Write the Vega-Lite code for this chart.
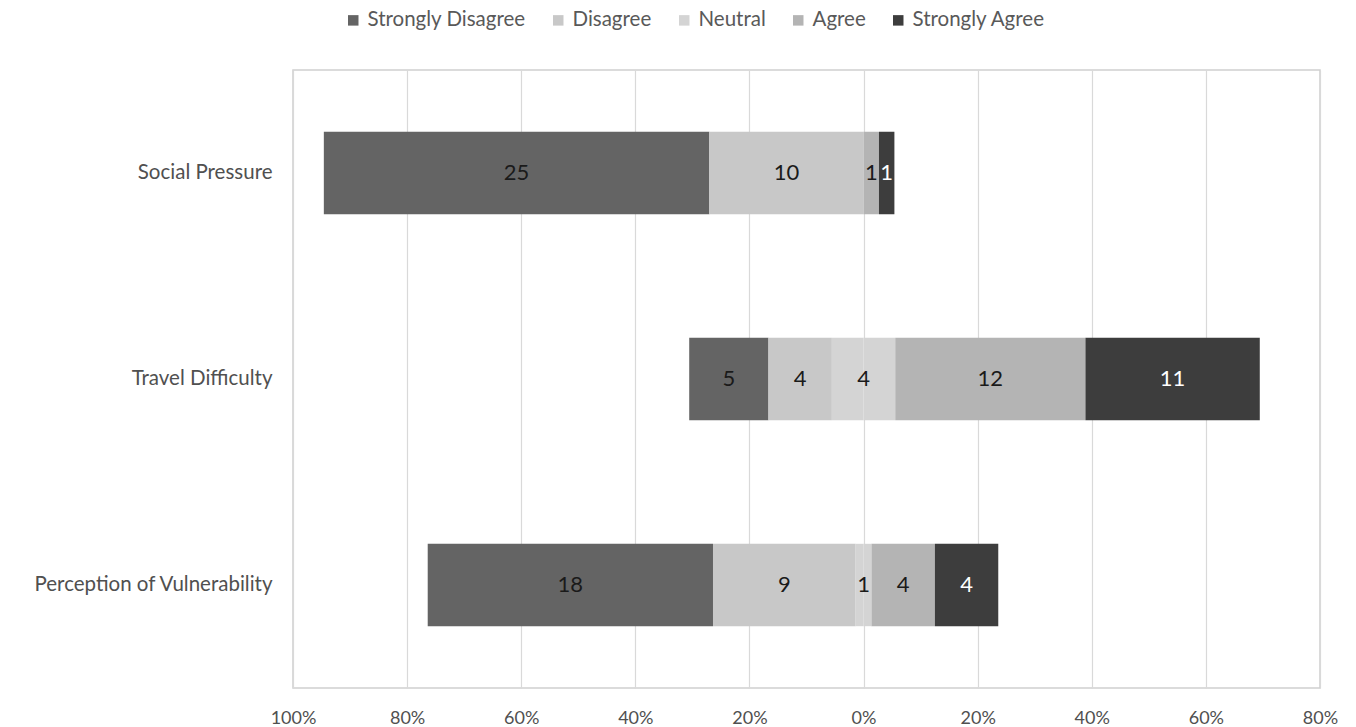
{
  "$schema": "https://vega.github.io/schema/vega-lite/v6.json",
  "width": 1027,
  "height": 618,
  "autosize": {"type": "none"},
  "padding": {"left": 293, "top": 70, "right": 36, "bottom": 39},
  "background": "white",
  "config": {
    "font": "Lato",
    "view": {"stroke": "#d0d0d0", "strokeWidth": 1.5}
  },
  "data": {
    "values": [
      {"question": "Social Pressure", "response": "Strongly Disagree", "level": 1, "count": 25, "pct": -67.568},
      {"question": "Social Pressure", "response": "Disagree", "level": 2, "count": 10, "pct": -27.027},
      {"question": "Social Pressure", "response": "Neutral", "level": 3, "count": 0, "pct": 0},
      {"question": "Social Pressure", "response": "Agree", "level": 4, "count": 1, "pct": 2.703},
      {"question": "Social Pressure", "response": "Strongly Agree", "level": 5, "count": 1, "pct": 2.703},
      {"question": "Travel Difficulty", "response": "Strongly Disagree", "level": 1, "count": 5, "pct": -13.889},
      {"question": "Travel Difficulty", "response": "Disagree", "level": 2, "count": 4, "pct": -11.111},
      {"question": "Travel Difficulty", "response": "Neutral", "level": 3, "count": 4, "pct": -5.556},
      {"question": "Travel Difficulty", "response": "Neutral", "level": 3, "count": 4, "pct": 5.556},
      {"question": "Travel Difficulty", "response": "Agree", "level": 4, "count": 12, "pct": 33.333},
      {"question": "Travel Difficulty", "response": "Strongly Agree", "level": 5, "count": 11, "pct": 30.556},
      {"question": "Perception of Vulnerability", "response": "Strongly Disagree", "level": 1, "count": 18, "pct": -50},
      {"question": "Perception of Vulnerability", "response": "Disagree", "level": 2, "count": 9, "pct": -25},
      {"question": "Perception of Vulnerability", "response": "Neutral", "level": 3, "count": 1, "pct": -1.389},
      {"question": "Perception of Vulnerability", "response": "Neutral", "level": 3, "count": 1, "pct": 1.389},
      {"question": "Perception of Vulnerability", "response": "Agree", "level": 4, "count": 4, "pct": 11.111},
      {"question": "Perception of Vulnerability", "response": "Strongly Agree", "level": 5, "count": 4, "pct": 11.111}
    ]
  },
  "encoding": {
    "y": {
      "field": "question",
      "type": "nominal",
      "sort": ["Social Pressure", "Travel Difficulty", "Perception of Vulnerability"],
      "scale": {"paddingInner": 0.6, "paddingOuter": 0.3},
      "axis": {
        "title": null,
        "ticks": false,
        "domain": false,
        "labelFontSize": 20.5,
        "labelColor": "#505050",
        "labelPadding": 21,
        "labelLimit": 400
      }
    }
  },
  "layer": [
    {
      "transform": [{"filter": "datum.pct < 0"}],
      "mark": {"type": "bar"},
      "encoding": {
        "x": {
          "field": "pct",
          "type": "quantitative",
          "stack": "zero",
          "scale": {"domain": [-100, 80], "nice": false, "zero": false},
          "axis": {
            "title": null,
            "values": [-100, -80, -60, -40, -20, 0, 20, 40, 60, 80],
            "labelExpr": "abs(datum.value) + '%'",
            "labelFlush": false,
            "labelOverlap": false,
            "grid": true,
            "gridColor": "#d9d9d9",
            "gridWidth": 1.2,
            "ticks": false,
            "domain": false,
            "labelFontSize": 18,
            "labelColor": "#505050",
            "labelPadding": 21
          }
        },
        "order": {"field": "level", "sort": "descending"},
        "color": {
          "field": "response",
          "type": "nominal",
          "scale": {
            "domain": ["Strongly Disagree", "Disagree", "Neutral", "Agree", "Strongly Agree"],
            "range": ["#646464", "#c8c8c8", "#d4d4d4", "#b4b4b4", "#3d3d3d"]
          },
          "legend": {
            "title": null,
            "orient": "none",
            "direction": "horizontal",
            "legendX": 50,
            "legendY": -60,
            "symbolType": "square",
            "symbolSize": 110,
            "symbolStrokeWidth": 0,
            "labelFontSize": 20.5,
            "labelColor": "#595959",
            "labelLimit": 300,
            "columnPadding": 22,
            "labelOffset": 4
          }
        }
      }
    },
    {
      "transform": [{"filter": "datum.pct > 0"}],
      "mark": {"type": "bar"},
      "encoding": {
        "x": {"field": "pct", "type": "quantitative", "stack": "zero"},
        "order": {"field": "level", "sort": "ascending"},
        "color": {"field": "response", "type": "nominal"}
      }
    },
    {
      "transform": [{"filter": "datum.pct < 0"}],
      "mark": {"type": "text", "fontSize": 22, "baseline": "middle", "align": "center", "color": "#1a1a1a"},
      "encoding": {
        "x": {"field": "pct", "type": "quantitative", "stack": "zero", "bandPosition": 0.5},
        "order": {"field": "level", "sort": "descending"},
        "detail": {"field": "response"},
        "text": {
          "condition": {"test": "datum.response === 'Neutral'", "value": ""},
          "field": "count",
          "type": "quantitative"
        }
      }
    },
    {
      "transform": [{"filter": "datum.pct > 0"}],
      "mark": {"type": "text", "fontSize": 22, "baseline": "middle", "align": "center"},
      "encoding": {
        "x": {"field": "pct", "type": "quantitative", "stack": "zero", "bandPosition": 0.5},
        "order": {"field": "level", "sort": "ascending"},
        "detail": {"field": "response"},
        "text": {
          "condition": {"test": "datum.response === 'Neutral'", "value": ""},
          "field": "count",
          "type": "quantitative"
        },
        "color": {
          "condition": {"test": "datum.response === 'Strongly Agree'", "value": "#ffffff"},
          "value": "#1a1a1a"
        }
      }
    },
    {
      "transform": [{"filter": "datum.response === 'Neutral' && datum.pct < 0"}],
      "mark": {"type": "text", "fontSize": 22, "baseline": "middle", "align": "center", "color": "#1a1a1a"},
      "encoding": {
        "x": {"datum": 0, "type": "quantitative"},
        "text": {"field": "count", "type": "quantitative"}
      }
    }
  ]
}
